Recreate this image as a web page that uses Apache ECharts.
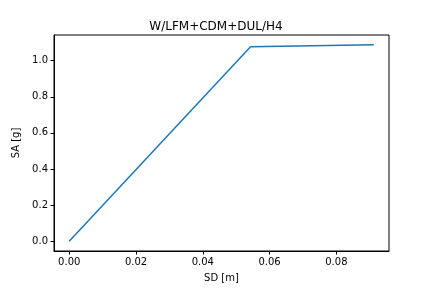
<!DOCTYPE html>
<html><head><meta charset="utf-8">
<script src="https://cdn.jsdelivr.net/npm/echarts@6/dist/echarts.min.js"></script>
<style>html,body{margin:0;padding:0;background:#fff}#c{width:432px;height:288px}</style>
</head><body><div id="c"></div>
<script>
var sd = [0.0, 0.0543, 0.0912];
var sa = [0.0, 1.077, 1.088];
var xTicks = [0.00, 0.02, 0.04, 0.06, 0.08];
var yTicks = [0.0, 0.2, 0.4, 0.6, 0.8, 1.0];
var titleText = 'W/LFM+CDM+DUL/H4';

var xMin = -0.00456, xMax = 0.09576;
var yMin = -0.0544, yMax = 1.1424;
var font = 'DejaVu Sans';
var chart = echarts.init(document.getElementById('c'), null, {renderer: 'canvas'});
chart.setOption({
  animation: false,
  backgroundColor: '#fff',
  title: {text: titleText, left: 'center', top: 16, textStyle: {fontFamily: font, fontSize: 12, fontWeight: 'normal', color: '#000'}},
  grid: {left: 54, right: 43, top: 35, bottom: 36, show: true, borderColor: '#000', borderWidth: 1},
  xAxis: {
    type: 'value', min: xMin, max: xMax,
    name: 'SD [m]', nameLocation: 'middle', nameGap: 22,
    nameTextStyle: {fontFamily: font, fontSize: 10, color: '#000'},
    axisLine: {show: true, onZero: false, lineStyle: {color: '#000'}},
    axisTick: {show: true, customValues: xTicks, length: 3.5, lineStyle: {color: '#000'}},
    axisLabel: {customValues: xTicks, fontFamily: font, fontSize: 10, color: '#000', margin: 6,
      formatter: function(v){return v.toFixed(2);}},
    splitLine: {show: false}
  },
  yAxis: {
    type: 'value', min: yMin, max: yMax,
    name: 'SA [g]', nameLocation: 'middle', nameGap: 31, nameRotate: 90,
    nameTextStyle: {fontFamily: font, fontSize: 10, color: '#000', verticalAlign: 'middle'},
    axisLine: {show: true, onZero: false, lineStyle: {color: '#000'}},
    axisTick: {show: true, customValues: yTicks, length: 3.5, lineStyle: {color: '#000'}},
    axisLabel: {customValues: yTicks, fontFamily: font, fontSize: 10, color: '#000', margin: 6,
      formatter: function(v){return v.toFixed(1);}},
    splitLine: {show: false}
  },
  series: [{
    type: 'line', data: sd.map(function(x,i){return [x, sa[i]];}),
    symbol: 'none', lineStyle: {color: '#1f77b4', width: 1.5}, itemStyle: {color: '#1f77b4'}
  }]
});
</script></body></html>
